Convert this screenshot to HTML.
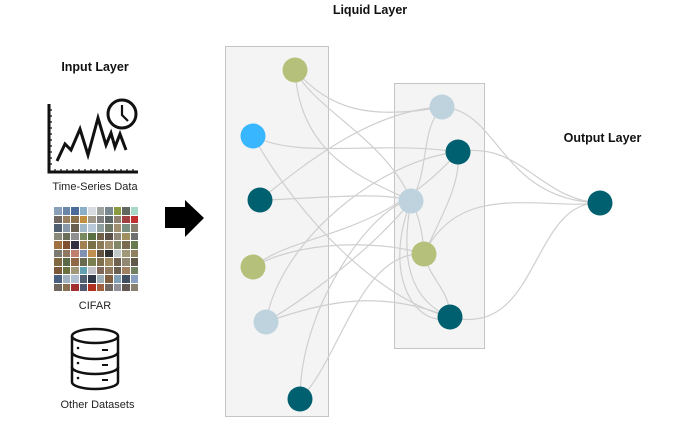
<!DOCTYPE html>
<html><head><meta charset="utf-8"><style>
body{margin:0;background:#fff;width:694px;height:429px;overflow:hidden;position:relative;font-family:"Liberation Sans",sans-serif}
.t{position:absolute;font-size:11px;color:#222;text-align:center}
.b{font-weight:bold;font-size:12.5px;color:#111}
.grid{position:absolute;left:54px;top:207px;width:84px;height:84px;display:grid;grid-template-columns:repeat(10,1fr);gap:1px}
.grid div{background:#7a7560}
</style></head><body>
<div class="t b" style="left:45px;top:60px;width:100px">Input Layer</div>
<div class="t b" style="left:310px;top:3px;width:120px">Liquid Layer</div>
<div class="t b" style="left:550px;top:131px;width:105px">Output Layer</div>
<div class="t" style="left:30px;top:181px;width:130px">Time-Series Data</div>
<div class="t" style="left:60px;top:300px;width:70px">CIFAR</div>
<div class="t" style="left:40px;top:399px;width:115px">Other Datasets</div>
<div class="grid">
<div style="background:#8aa0b8"></div><div style="background:#6a86a8"></div><div style="background:#4a6c98"></div><div style="background:#8ab0c8"></div><div style="background:#d8dce0"></div><div style="background:#a0a4a0"></div><div style="background:#7a8890"></div><div style="background:#8a9a40"></div><div style="background:#606860"></div><div style="background:#a8d8c8"></div>
<div style="background:#706860"></div><div style="background:#988060"></div><div style="background:#8a7048"></div><div style="background:#c09040"></div><div style="background:#a09888"></div><div style="background:#808080"></div><div style="background:#606868"></div><div style="background:#908070"></div><div style="background:#a04040"></div><div style="background:#c03030"></div>
<div style="background:#506070"></div><div style="background:#8898a8"></div><div style="background:#6a6050"></div><div style="background:#a0b8c8"></div><div style="background:#b8c8d8"></div><div style="background:#90a0a0"></div><div style="background:#707868"></div><div style="background:#a09070"></div><div style="background:#7a9080"></div><div style="background:#8a8070"></div>
<div style="background:#8a8a7a"></div><div style="background:#6a7058"></div><div style="background:#909090"></div><div style="background:#7a8a60"></div><div style="background:#5a7040"></div><div style="background:#706048"></div><div style="background:#5a5048"></div><div style="background:#908878"></div><div style="background:#a09060"></div><div style="background:#707070"></div>
<div style="background:#a07040"></div><div style="background:#805030"></div><div style="background:#303040"></div><div style="background:#a08050"></div><div style="background:#7a7048"></div><div style="background:#8a7a58"></div><div style="background:#a09070"></div><div style="background:#808868"></div><div style="background:#7a6a50"></div><div style="background:#6a7a50"></div>
<div style="background:#7a7a70"></div><div style="background:#907860"></div><div style="background:#c08070"></div><div style="background:#8090b0"></div><div style="background:#c09050"></div><div style="background:#605040"></div><div style="background:#303030"></div><div style="background:#c0c8c8"></div><div style="background:#a09878"></div><div style="background:#908060"></div>
<div style="background:#806840"></div><div style="background:#5a6848"></div><div style="background:#906848"></div><div style="background:#6a6a50"></div><div style="background:#7a8050"></div><div style="background:#807050"></div><div style="background:#a08860"></div><div style="background:#706050"></div><div style="background:#908870"></div><div style="background:#605848"></div>
<div style="background:#7a5838"></div><div style="background:#6a7040"></div><div style="background:#a09878"></div><div style="background:#60a0b0"></div><div style="background:#c0c0c8"></div><div style="background:#806858"></div><div style="background:#907a60"></div><div style="background:#6a6050"></div><div style="background:#a08060"></div><div style="background:#708060"></div>
<div style="background:#4a6080"></div><div style="background:#a0b0c0"></div><div style="background:#b0c0d0"></div><div style="background:#506070"></div><div style="background:#303848"></div><div style="background:#a0b0b8"></div><div style="background:#806040"></div><div style="background:#80a0b8"></div><div style="background:#405060"></div><div style="background:#8aa0c0"></div>
<div style="background:#706860"></div><div style="background:#8a7050"></div><div style="background:#a03030"></div><div style="background:#505870"></div><div style="background:#b03020"></div><div style="background:#a06040"></div><div style="background:#706860"></div><div style="background:#909098"></div><div style="background:#605850"></div><div style="background:#8a8070"></div>
</div>
<svg width="694" height="429" style="position:absolute;left:0;top:0">
<!-- time series icon -->
<g stroke="#111" fill="none" stroke-width="3" stroke-linejoin="miter">
<path d="M49 104 V172 H138"/>
<path d="M57 161 L65 144 L71 150 L80 129 L88 155 L98 118 L106 145 L111 133 L115 147 L120 134 L126 150"/>
<circle cx="122" cy="114" r="14" fill="#fff"/>
<path d="M122 105 V115 L128 121" stroke-width="2.2"/>
</g>
<g stroke="#111" stroke-width="1.2"><path d="M49 110h3M49 116h3M49 122h3M49 128h3M49 134h3M49 140h3M49 146h3M49 152h3M49 158h3M49 164h3M55 172v-3M61 172v-3M67 172v-3M73 172v-3M79 172v-3M85 172v-3M91 172v-3M97 172v-3M103 172v-3M109 172v-3M115 172v-3M121 172v-3M127 172v-3M133 172v-3"/></g>
<!-- database -->
<g stroke="#111" stroke-width="2.5" fill="#fff">
<path d="M72 336 V382 A23 7 0 0 0 118 382 V336"/>
<ellipse cx="95" cy="336" rx="23" ry="7"/>
<path d="M72 352 A23 7 0 0 0 118 352 M72 367 A23 7 0 0 0 118 367" fill="none"/>
<path d="M102 350h6M102 365h6M102 380h6" stroke-width="2"/>
</g>
<g fill="#111"><circle cx="78" cy="348" r="1.3"/><circle cx="78" cy="363" r="1.3"/><circle cx="78" cy="378" r="1.3"/></g>
<!-- arrow -->
<path d="M165 207 H185 V200 L204 218 L185 237 V228 H165 Z" fill="#000"/>
<!-- boxes -->
<rect x="225.5" y="46.5" width="103" height="370" fill="#f4f4f4" stroke="#c4c4c4"/>
<rect x="394.5" y="83.5" width="90" height="265" fill="#f4f4f4" stroke="#c4c4c4"/>
<g fill="none" stroke="#cfcfcf" stroke-width="1.2">
<path d="M295 70 C330 110 370 120 442 107"/>
<path d="M295 70 C320 120 420 150 424 254"/>
<path d="M295 70 C300 160 370 180 411 201"/>
<path d="M253 136 C300 160 380 140 458 152"/>
<path d="M253 136 C300 220 380 300 450 317"/>
<path d="M260 200 C300 200 380 190 411 201"/>
<path d="M260 200 C320 150 380 110 442 107"/>
<path d="M253 267 C300 230 380 240 458 152"/>
<path d="M253 267 C300 240 380 240 424 254"/>
<path d="M266 322 C280 240 380 160 458 152"/>
<path d="M266 322 C330 300 380 290 450 317"/>
<path d="M266 322 C320 290 380 240 411 201"/>
<path d="M300 399 C300 300 380 200 411 201"/>
<path d="M300 399 C340 360 360 250 424 254"/>
<path d="M411 201 C430 170 420 130 442 107"/>
<path d="M411 201 C400 260 410 300 450 317"/>
<path d="M424 254 C450 200 460 180 458 152"/>
<path d="M424 254 C430 280 450 290 450 317"/>
<path d="M442 107 C500 110 500 200 600 203"/>
<path d="M458 152 C520 140 540 200 600 203"/>
<path d="M424 254 C460 180 540 210 600 203"/>
<path d="M450 317 C540 340 530 200 600 203"/>
<path d="M411 201 C380 280 420 330 450 317"/>
</g>
<g>
<circle cx="295" cy="70" r="12.5" fill="#b5c07a"/>
<circle cx="253" cy="136" r="12.5" fill="#38b6ff"/>
<circle cx="260" cy="200" r="12.5" fill="#00606f"/>
<circle cx="253" cy="267" r="12.5" fill="#b5c07a"/>
<circle cx="266" cy="322" r="12.5" fill="#bfd3de"/>
<circle cx="300" cy="399" r="12.5" fill="#00606f"/>
<circle cx="442" cy="107" r="12.5" fill="#bfd3de"/>
<circle cx="458" cy="152" r="12.5" fill="#00606f"/>
<circle cx="411" cy="201" r="12.5" fill="#bfd3de"/>
<circle cx="424" cy="254" r="12.5" fill="#b5c07a"/>
<circle cx="450" cy="317" r="12.5" fill="#00606f"/>
<circle cx="600" cy="203" r="12.5" fill="#00606f"/>
</g>
</svg>
</body></html>
